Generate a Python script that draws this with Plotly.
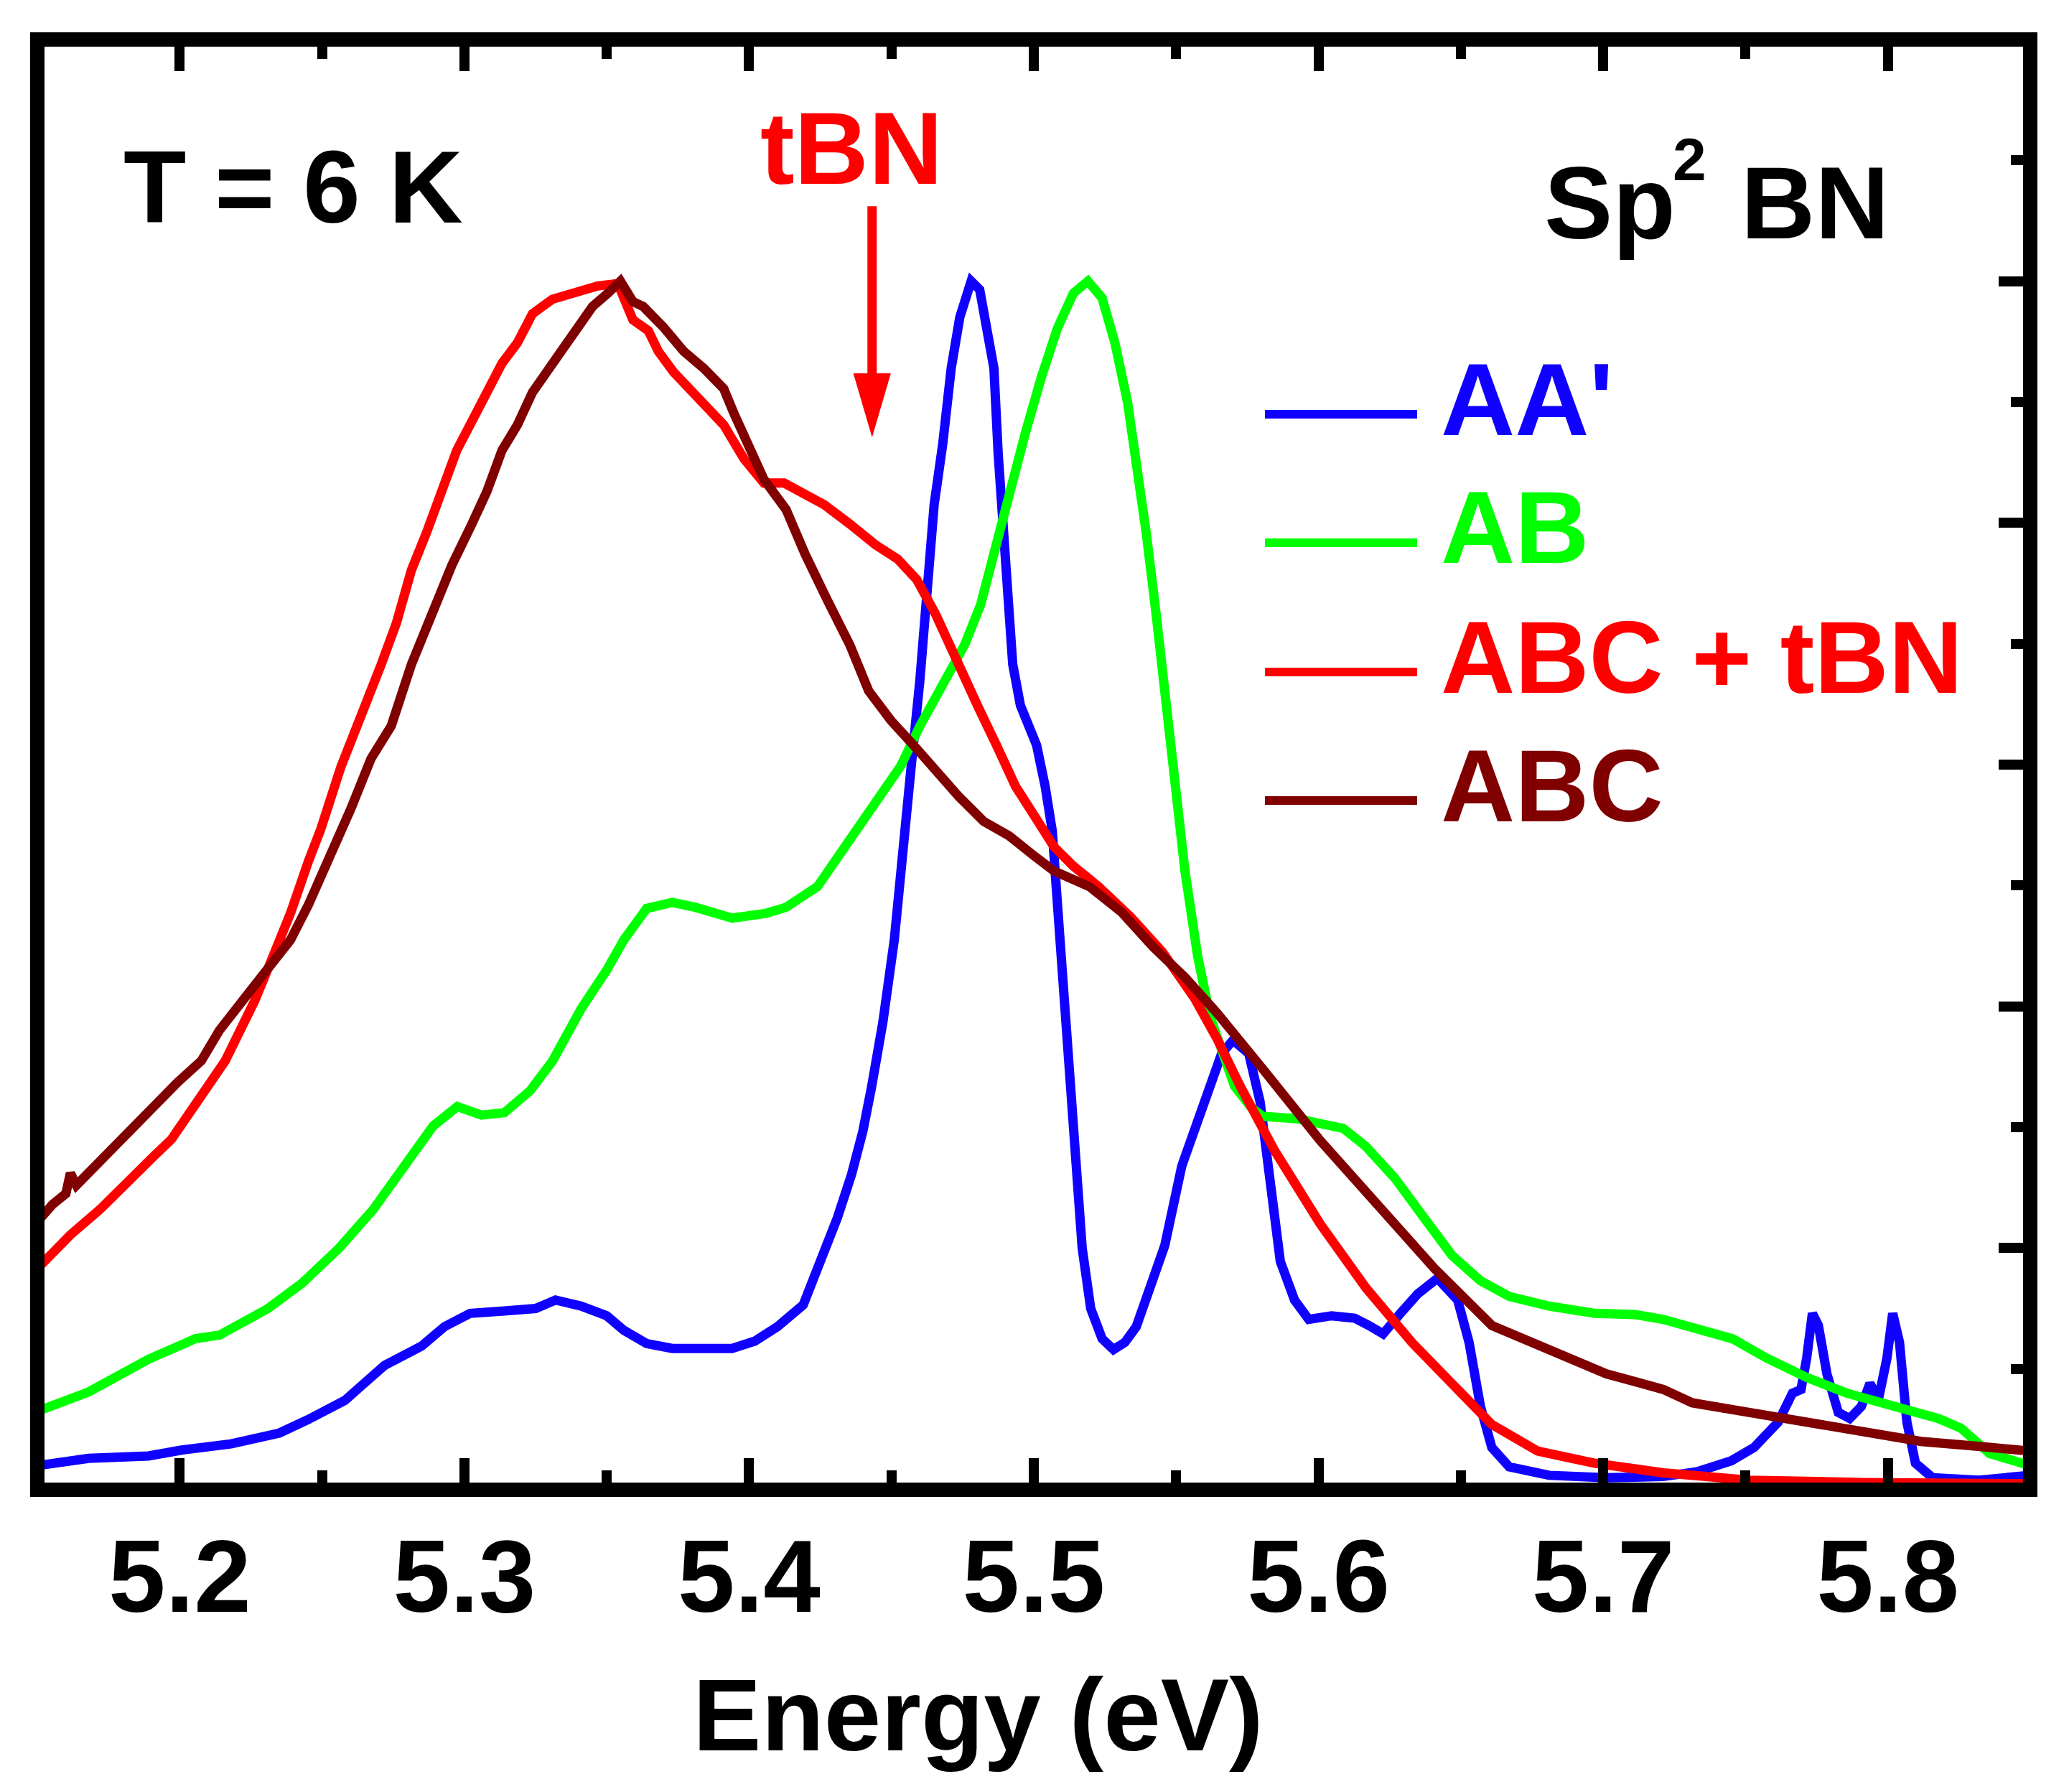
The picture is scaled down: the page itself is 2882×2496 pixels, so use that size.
# -*- coding: utf-8 -*-
import plotly.graph_objects as go

# ---- data (intensity normalised to 10 at peak) ----
aa_x = [5.150, 5.168, 5.189, 5.201, 5.218, 5.235, 5.245, 5.258, 5.272, 5.285,
        5.293, 5.302, 5.314, 5.325, 5.332, 5.341, 5.350, 5.356, 5.364, 5.373,
        5.383, 5.394, 5.402, 5.410, 5.419, 5.425, 5.431, 5.436, 5.440, 5.443,
        5.447, 5.451, 5.454, 5.457, 5.460, 5.462, 5.465, 5.468, 5.471, 5.474,
        5.478, 5.481, 5.483, 5.486, 5.4875, 5.489, 5.490, 5.4926, 5.4953, 5.498,
        5.501, 5.504, 5.5065, 5.508, 5.510, 5.5116, 5.514, 5.517, 5.520, 5.524,
        5.528, 5.532, 5.536, 5.540, 5.546, 5.552, 5.558, 5.562, 5.566, 5.570,
        5.5755, 5.5795, 5.5825, 5.5866, 5.5916, 5.5966, 5.6046, 5.6127, 5.6177, 5.6227,
        5.6288, 5.6348, 5.6418, 5.6489, 5.6529, 5.6569, 5.6609, 5.667, 5.681, 5.701,
        5.721, 5.733, 5.745, 5.753, 5.7615, 5.7665, 5.7695, 5.7715, 5.7735, 5.7756,
        5.7786, 5.7826, 5.7866, 5.7907, 5.7937, 5.7967, 5.7997, 5.8017, 5.8041, 5.8067,
        5.8097, 5.8157, 5.832, 5.850]
aa_y = [0.20, 0.26, 0.28, 0.33, 0.38, 0.47, 0.58, 0.74, 1.03, 1.19,
        1.35, 1.46, 1.48, 1.50, 1.57, 1.52, 1.44, 1.32, 1.21, 1.17,
        1.17, 1.17, 1.23, 1.35, 1.53, 1.89, 2.25, 2.61, 2.97, 3.33,
        3.87, 4.55, 5.20, 6.00, 6.70, 7.32, 8.15, 8.65, 9.28, 9.70,
        10.0, 9.93, 9.70, 9.28, 8.57, 8.03, 7.53, 6.83, 6.49, 6.32,
        6.16, 5.82, 5.45, 4.95, 4.32, 3.74, 2.90, 2.00, 1.50, 1.25,
        1.16, 1.22, 1.35, 1.62, 2.02, 2.68, 3.08, 3.34, 3.61, 3.72,
        3.61, 3.21, 2.68, 1.89, 1.57, 1.41, 1.44, 1.42, 1.36, 1.29,
        1.46, 1.62, 1.75, 1.57, 1.22, 0.69, 0.35, 0.19, 0.12, 0.10,
        0.11, 0.15, 0.24, 0.35, 0.56, 0.80, 0.83, 1.09, 1.46, 1.36,
        0.96, 0.64, 0.59, 0.69, 0.88, 0.75, 1.09, 1.46, 1.22, 0.56,
        0.22, 0.10, 0.08, 0.12]

ab_x = [5.150, 5.168, 5.189, 5.2055, 5.214, 5.231, 5.243, 5.256, 5.268, 5.279,
        5.289, 5.2975, 5.306, 5.314, 5.323, 5.331, 5.341, 5.350, 5.356, 5.364,
        5.373, 5.381, 5.394, 5.406, 5.413, 5.424, 5.435, 5.4466, 5.4533, 5.460,
        5.468, 5.4757, 5.4813, 5.4858, 5.4914, 5.497, 5.5026, 5.5083, 5.5139, 5.519,
        5.524, 5.5285, 5.533, 5.5363, 5.5396, 5.543, 5.5464, 5.5497, 5.5531, 5.5576,
        5.562, 5.5705, 5.5765, 5.5805, 5.5926, 5.6007, 5.6087, 5.6167, 5.6268, 5.6368,
        5.6469, 5.6569, 5.667, 5.681, 5.6971, 5.7112, 5.7212, 5.7333, 5.7454, 5.7574,
        5.7715, 5.7855, 5.8016, 5.8177, 5.8257, 5.8358, 5.850]
ab_y = [0.65, 0.81, 1.08, 1.25, 1.28, 1.50, 1.71, 2.00, 2.32, 2.68,
        3.01, 3.17, 3.10, 3.12, 3.30, 3.55, 3.98, 4.30, 4.55, 4.81,
        4.86, 4.82, 4.73, 4.77, 4.82, 4.99, 5.37, 5.74, 5.99, 6.32,
        6.66, 6.99, 7.32, 7.74, 8.24, 8.74, 9.20, 9.61, 9.90, 10.0,
        9.86, 9.49, 8.99, 8.49, 7.90, 7.24, 6.49, 5.74, 5.12, 4.41,
        3.91, 3.34, 3.16, 3.09, 3.07, 3.03, 2.99, 2.84, 2.58, 2.26,
        1.94, 1.73, 1.60, 1.52, 1.46, 1.45, 1.41, 1.33, 1.25, 1.09,
        0.93, 0.80, 0.69, 0.59, 0.51, 0.30, 0.20]

abct_x = [5.1512, 5.1616, 5.172, 5.1825, 5.1909, 5.1971, 5.2034, 5.2097, 5.216, 5.2212,
          5.2264, 5.2327, 5.2389, 5.2452, 5.2496, 5.2566, 5.2637, 5.2708, 5.2761, 5.2814,
          5.2867, 5.292, 5.2973, 5.3026, 5.3079, 5.3132, 5.3186, 5.3239, 5.3309, 5.338,
          5.3468, 5.3539, 5.3592, 5.3646, 5.3681, 5.3734, 5.3787, 5.3858, 5.3911, 5.3982,
          5.4052, 5.4123, 5.4186, 5.4264, 5.4354, 5.4443, 5.4522, 5.4589, 5.4656, 5.4735,
          5.4802, 5.4869, 5.4936, 5.5004, 5.5071, 5.5139, 5.5228, 5.534, 5.5452, 5.5564,
          5.5642, 5.5725, 5.5845, 5.6006, 5.6167, 5.6328, 5.6489, 5.6609, 5.677, 5.6971,
          5.7212, 5.7514, 5.7916, 5.850]
abct_y = [1.86, 2.11, 2.32, 2.58, 2.76, 2.90, 3.12, 3.33, 3.55, 3.80,
          4.05, 4.41, 4.77, 5.20, 5.47, 5.98, 6.39, 6.83, 7.17, 7.61,
          7.92, 8.26, 8.60, 8.84, 9.08, 9.32, 9.49, 9.73, 9.85, 9.90,
          9.96, 9.98, 9.68, 9.59, 9.42, 9.25, 9.11, 8.94, 8.81, 8.53,
          8.33, 8.33, 8.24, 8.15, 7.99, 7.82, 7.70, 7.53, 7.24, 6.82,
          6.49, 6.16, 5.82, 5.57, 5.32, 5.16, 4.99, 4.74, 4.45, 4.07,
          3.74, 3.34, 2.81, 2.20, 1.67, 1.22, 0.83, 0.54, 0.32, 0.22,
          0.14, 0.08, 0.06, 0.05]

abc_x = [5.1512, 5.1553, 5.160, 5.1616, 5.1637, 5.172, 5.1825, 5.1909, 5.1992, 5.2076,
         5.2139, 5.2222, 5.2306, 5.2389, 5.2452, 5.2515, 5.2578, 5.2602, 5.2672, 5.2743,
         5.2814, 5.2885, 5.2956, 5.3026, 5.3079, 5.3132, 5.3186, 5.3239, 5.3309, 5.338,
         5.345, 5.3504, 5.3548, 5.3592, 5.3628, 5.3699, 5.377, 5.384, 5.3911, 5.3946,
         5.3999, 5.4052, 5.413, 5.4197, 5.4275, 5.4354, 5.442, 5.450, 5.4578, 5.4656,
         5.4735, 5.4824, 5.4914, 5.5004, 5.5071, 5.5196, 5.5308, 5.542, 5.5531, 5.5642,
         5.572, 5.5805, 5.6006, 5.6207, 5.6408, 5.6609, 5.681, 5.7011, 5.7212, 5.7313,
         5.7514, 5.7715, 5.7916, 5.8117, 5.8318, 5.850]
abc_y = [2.25, 2.36, 2.45, 2.62, 2.52, 2.72, 2.97, 3.19, 3.37, 3.55,
         3.80, 4.05, 4.30, 4.55, 4.84, 5.17, 5.49, 5.64, 6.05, 6.32,
         6.83, 7.24, 7.65, 7.99, 8.26, 8.60, 8.81, 9.08, 9.32, 9.56,
         9.79, 9.90, 10.0, 9.83, 9.79, 9.62, 9.42, 9.28, 9.11, 8.91,
         8.64, 8.36, 8.11, 7.74, 7.36, 6.99, 6.61, 6.36, 6.16, 5.95,
         5.74, 5.53, 5.41, 5.24, 5.12, 4.99, 4.78, 4.49, 4.24, 3.95,
         3.71, 3.48, 2.89, 2.36, 1.83, 1.36, 1.15, 0.96, 0.83, 0.72,
         0.64, 0.56, 0.48, 0.40, 0.36, 0.32]

series_names = ["AA'", "AB", "ABC + tBN", "ABC"]
series_colors = ["#1000FF", "#00FF00", "#FF0000", "#800000"]

# tBN arrow (data units)
tbn_x = 5.4432
tbn_tail = 10.62
tbn_tip = 8.75

# ---- page geometry (pixels on the 2882x2496 page) ----
OFF = 8  # default body margin of the html page
W, H = 2882 - 2 * OFF, 2496 - 2 * OFF
PL, PR, PT, PB = 62, 2818, 65, 2065  # inner plot box, page px
FONT = "Liberation Sans"
FS = 143
LW = 13


def fx(px):
    return (px - PL) / (PR - PL)


def fy(py):
    return (PB - py) / (PB - PT)


fig = go.Figure()

for xs, ys, name, col in zip([aa_x, ab_x, abct_x, abc_x], [aa_y, ab_y, abct_y, abc_y],
                             series_names, series_colors):
    fig.add_trace(go.Scatter(x=xs, y=ys, mode="lines", name=name,
                             line=dict(color=col, width=LW), showlegend=False))

# X軸
fig.update_xaxes(
    range=[5.1525, 5.8475],
    tick0=5.2, dtick=0.1, tickformat=".1f",
    ticks="inside", ticklen=34, tickwidth=14, tickcolor="black",
    minor=dict(dtick=0.05, tick0=5.2, ticks="inside", ticklen=17, tickwidth=14, tickcolor="black"),
    showline=True, linewidth=20, linecolor="black", mirror="allticks",
    showgrid=False, zeroline=False,
    tickfont=dict(family=FONT, size=FS, color="black", weight="bold"),
    ticklabelstandoff=-12,
)

# Y軸 (ticks on the right only)
fig.update_yaxes(
    range=[0.06, 11.94], side="right",
    tick0=0, dtick=2, ticks="inside", ticklen=34, tickwidth=14, tickcolor="black",
    minor=dict(dtick=1, tick0=0, ticks="inside", ticklen=17, tickwidth=14, tickcolor="black"),
    showline=True, linewidth=20, linecolor="black", mirror=True,
    showgrid=False, zeroline=False, showticklabels=False,
)

ann = []
# texts inside the frame
ann.append(dict(text="T = 6 K", x=fx(170), y=fy(260), xanchor="left", yanchor="middle"))
ann.append(dict(text="Sp", x=fx(2149), y=fy(282), xanchor="left", yanchor="middle"))
ann.append(dict(text="2", x=fx(2328), y=fy(222), xanchor="left", yanchor="middle",
                font=dict(size=84)))
ann.append(dict(text="BN", x=fx(2423), y=fy(282), xanchor="left", yanchor="middle"))
ann.append(dict(text="tBN", x=fx(1186), y=fy(206), xanchor="center", yanchor="middle",
                font=dict(color="#FF0000")))
ann.append(dict(text="Energy (eV)", x=fx(1362), y=fy(2388), xanchor="center", yanchor="middle"))

# hand-made legend
leg_y = [577, 756, 936, 1115]
shapes = []
for name, col, ly in zip(series_names, series_colors, leg_y):
    shapes.append(dict(type="line", xref="paper", yref="paper", x0=fx(1762), x1=fx(1974),
                       y0=fy(ly), y1=fy(ly), line=dict(color=col, width=12)))
    ann.append(dict(text=name, x=fx(2005), y=fy(ly - 21), xanchor="left", yanchor="middle",
                    font=dict(color=col)))

for a in ann:
    a.update(xref="paper", yref="paper", showarrow=False)
    f = dict(family=FONT, size=FS, color="black", weight="bold")
    f.update(a.get("font", {}))
    a["font"] = f

# tBN arrow: shaft + elongated head
head_len = 80 / 168.5
head_half = 23.5 / 3966
shapes.append(dict(type="line", xref="x", yref="y", x0=tbn_x, x1=tbn_x,
                   y0=tbn_tail, y1=tbn_tip + head_len * 0.8,
                   line=dict(color="#FF0000", width=13)))
shapes.append(dict(type="path", xref="x", yref="y",
                   path="M {a},{b} L {c},{b} L {d},{e} Z".format(
                       a=tbn_x - head_half, b=tbn_tip + head_len, c=tbn_x + head_half,
                       d=tbn_x, e=tbn_tip),
                   fillcolor="#FF0000", line=dict(color="#FF0000", width=4)))

fig.update_layout(
    width=W, height=H,
    margin=dict(l=PL - OFF, r=W + OFF - PR, t=PT - OFF, b=H + OFF - PB, pad=0, autoexpand=False),
    paper_bgcolor="white", plot_bgcolor="white",
    font=dict(family=FONT, size=FS, color="black", weight="bold"),
    annotations=ann, shapes=shapes,
    showlegend=False,
)

fig.write_html("out.html")
